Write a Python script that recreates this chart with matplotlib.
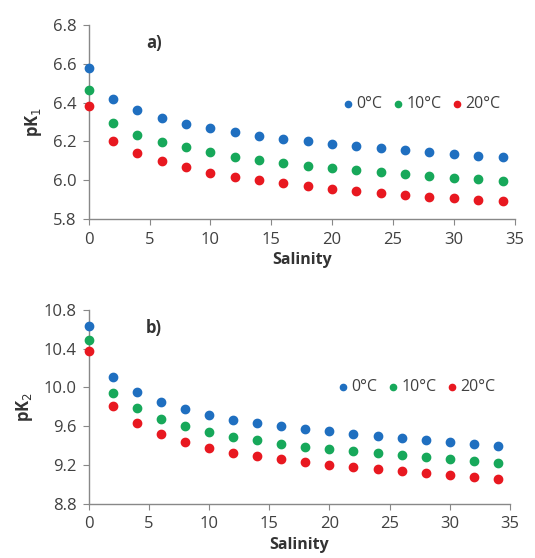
import numpy as np
import matplotlib
matplotlib.use("Agg")
import matplotlib.pyplot as plt

salinity = [0, 2, 4, 6, 8, 10, 12, 14, 16, 18, 20, 22, 24, 26, 28, 30, 32, 34]
labels = ["0°C", "10°C", "20°C"]
colors = ["#1f6fc0", "#17a85a", "#e81820"]

pk1_0 = [6.58, 6.417, 6.36, 6.32, 6.29, 6.27, 6.247, 6.23, 6.21, 6.20, 6.187, 6.175, 6.166, 6.154, 6.144, 6.133, 6.126, 6.118]
pk1_10 = [6.465, 6.295, 6.235, 6.197, 6.17, 6.144, 6.121, 6.104, 6.087, 6.075, 6.061, 6.051, 6.04, 6.03, 6.02, 6.011, 6.004, 5.994]
pk1_20 = [6.383, 6.202, 6.142, 6.10, 6.07, 6.039, 6.018, 5.999, 5.984, 5.968, 5.956, 5.944, 5.934, 5.924, 5.913, 5.908, 5.898, 5.891]

pk2_0 = [10.635, 10.11, 9.95, 9.846, 9.778, 9.72, 9.668, 9.63, 9.6, 9.568, 9.548, 9.52, 9.5, 9.476, 9.455, 9.438, 9.414, 9.393]
pk2_10 = [10.49, 9.942, 9.785, 9.675, 9.603, 9.541, 9.493, 9.455, 9.421, 9.39, 9.366, 9.345, 9.321, 9.301, 9.284, 9.267, 9.246, 9.222]
pk2_20 = [10.378, 9.809, 9.63, 9.517, 9.442, 9.376, 9.328, 9.29, 9.26, 9.229, 9.198, 9.177, 9.157, 9.136, 9.115, 9.095, 9.078, 9.057]

plt.rcParams['font.family'] = ['Open Sans', 'DejaVu Sans']
plt.rcParams['font.size'] = 12

fig = plt.figure(figsize=(5.35, 5.58), dpi=100)
ax1 = fig.add_axes([0.166, 0.6075, 0.796, 0.348])
ax2 = fig.add_axes([0.166, 0.0968, 0.787, 0.348])


def style_ax(ax, ylim, yticks, ylabel, tag, leg_y):
    ax.set_xlim(0, 35)
    ax.set_ylim(*ylim)
    ax.set_yticks(yticks)
    ax.set_yticklabels(["%.1f" % v for v in yticks])
    ax.set_xticks(range(0, 36, 5))
    for s in ["top", "right"]:
        ax.spines[s].set_visible(False)
    for s in ["left", "bottom"]:
        ax.spines[s].set_color("#888888")
        ax.spines[s].set_linewidth(1.0)
    ax.tick_params(direction="out", length=4, pad=5, color="#888888",
                   labelcolor="#404040", labelsize=12)
    ax.set_xlabel("Salinity", fontweight="bold", color="#333333", labelpad=3,
                  fontsize=11.5)
    ax.set_ylabel(ylabel, fontweight="bold", color="#333333", labelpad=6,
                  fontsize=12)
    ax.text(0.135, 0.88, tag, transform=ax.transAxes, fontweight="bold",
            color="#333333", fontsize=12)
    leg = ax.legend(loc="center right", bbox_to_anchor=(1.0, leg_y), ncol=3,
                    frameon=False, handletextpad=0.0, columnspacing=0.5,
                    fontsize=11.5, handlelength=1.0, markerscale=0.75)
    for t in leg.get_texts():
        t.set_color("#404040")


for y, lab, c in zip([pk1_0, pk1_10, pk1_20], labels, colors):
    ax1.scatter(salinity, y, s=36, color=c, label=lab, clip_on=False, zorder=3)
for y, lab, c in zip([pk2_0, pk2_10, pk2_20], labels, colors):
    ax2.scatter(salinity, y, s=36, color=c, label=lab, clip_on=False, zorder=3)

style_ax(ax1, (5.8, 6.8), [5.8, 6.0, 6.2, 6.4, 6.6, 6.8], "pK$_1$", "a)", 0.59)
style_ax(ax2, (8.8, 10.8), [8.8, 9.2, 9.6, 10.0, 10.4, 10.8], "pK$_2$", "b)", 0.6)

fig.savefig("out.png", dpi=100)
